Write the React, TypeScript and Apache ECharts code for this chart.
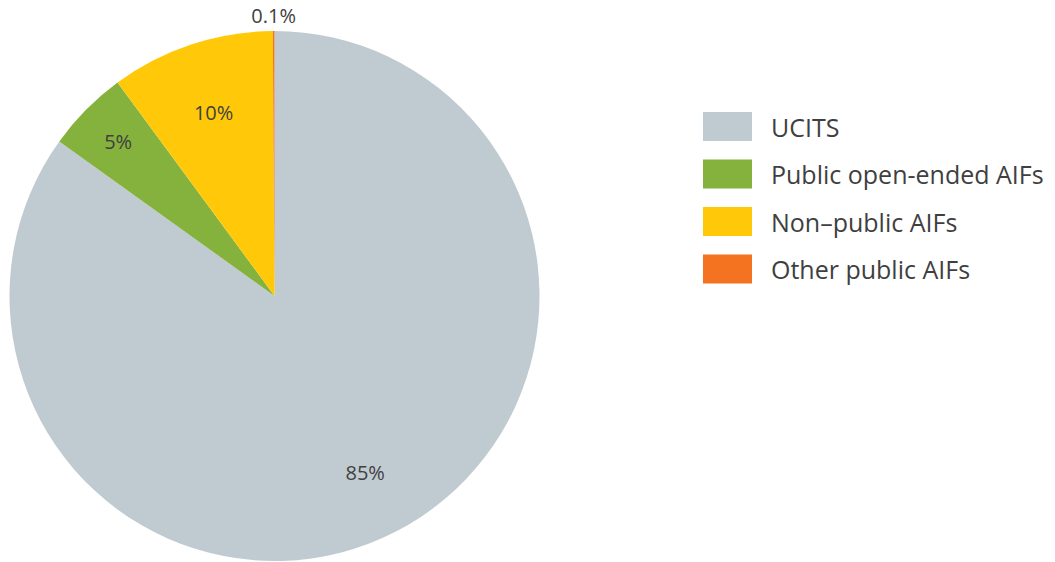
import React, { useEffect, useRef } from "react";
import * as echarts from "echarts";

const categories = ["UCITS", "Public open-ended AIFs", "Non\u2013public AIFs", "Other public AIFs"];
const values = [85, 5, 10, 0.1];
const colors = ["#C0CBD1", "#85B13D", "#FFC90A", "#F47321"];
const labelRadiusFactor = [0.75, 0.83, 0.73, 1.06];

const CX = 274.5;
const CY = 296;
const R = 265;

export default function App() {
  const ref = useRef<HTMLDivElement>(null);
  useEffect(() => {
    document.body.style.margin = "0";
    const chart = echarts.init(ref.current!, null, { renderer: "svg" });
    const total = values.reduce((a, b) => a + b, 0);
    const mids: number[] = [];
    let acc = 0;
    values.forEach((v) => {
      mids.push(((acc + v / 2) / total) * Math.PI * 2);
      acc += v;
    });
    chart.setOption({
      animation: false,
      legend: {
        orient: "vertical",
        left: 703,
        top: 112,
        padding: 0,
        itemWidth: 49,
        itemHeight: 29,
        itemGap: 18.5,
        icon: "rect",
        selectedMode: false,
        textStyle: {
          fontFamily: "Open Sans",
          fontSize: 25,
          lineHeight: 29,
          color: "#3f3f3f",
          padding: [0, 0, 0, 14],
        },
        data: categories,
      },
      series: [
        {
          type: "pie",
          center: [CX, CY],
          radius: R,
          startAngle: 90,
          clockwise: true,
          silent: true,
          label: {
            show: true,
            position: "inside",
            formatter: "{c}%",
            fontFamily: "Open Sans",
            fontSize: 20,
            color: "#404040",
          },
          labelLine: { show: false },
          labelLayout: (params: any) => {
            const i = params.dataIndex;
            const a = mids[i];
            const d = R * labelRadiusFactor[i];
            return {
              x: CX + d * Math.sin(a),
              y: CY - d * Math.cos(a),
              align: "center",
              verticalAlign: "middle",
            };
          },
          data: categories.map((name, i) => ({
            name,
            value: values[i],
            itemStyle: { color: colors[i] },
          })),
        },
      ],
    });
    return () => chart.dispose();
  }, []);
  return <div ref={ref} style={{ width: 1055, height: 562 }} />;
}
